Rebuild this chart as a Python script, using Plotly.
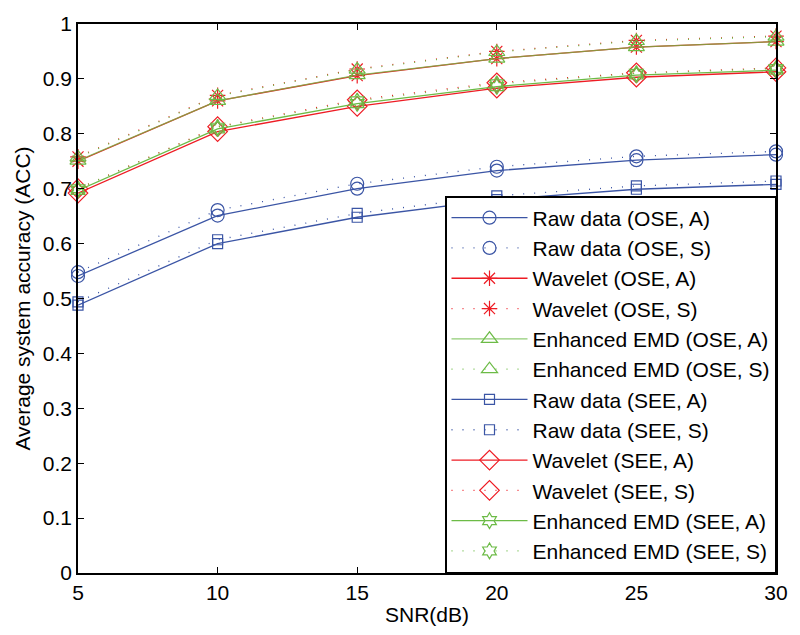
import plotly.graph_objects as go

snr = [5, 10, 15, 20, 25, 30]

raw_ose_a = [0.541, 0.651, 0.700, 0.733, 0.752, 0.762]
raw_ose_s = [0.548, 0.661, 0.709, 0.740, 0.759, 0.768]
wav_ose_a = [0.750, 0.860, 0.906, 0.937, 0.958, 0.968]
wav_ose_s = [0.758, 0.870, 0.918, 0.950, 0.970, 0.978]
emd_ose_a = [0.751, 0.860, 0.907, 0.937, 0.958, 0.968]
emd_ose_s = [0.757, 0.869, 0.917, 0.949, 0.969, 0.977]
raw_see_a = [0.488, 0.600, 0.648, 0.680, 0.699, 0.708]
raw_see_s = [0.494, 0.607, 0.655, 0.687, 0.705, 0.714]
wav_see_a = [0.692, 0.804, 0.850, 0.883, 0.903, 0.913]
wav_see_s = [0.700, 0.813, 0.862, 0.893, 0.911, 0.920]
emd_see_a = [0.697, 0.809, 0.855, 0.886, 0.907, 0.916]
emd_see_s = [0.700, 0.812, 0.860, 0.891, 0.910, 0.919]

BLUE = "#3b55a5"
RED = "#ee1c24"
GREEN = "#6cbb46"
GREEN_BLEND = "rgba(108,187,70,0.75)"
DOT = "1px,10px"
FONT = "Liberation Sans"

series = [
    ("Raw data (OSE, A)", raw_ose_a, BLUE, BLUE, "solid", "circle-open", 13),
    ("Raw data (OSE, S)", raw_ose_s, BLUE, BLUE, DOT, "circle-open", 13),
    ("Wavelet (OSE, A)", wav_ose_a, RED, RED, "solid", "asterisk-open", 13),
    ("Wavelet (OSE, S)", wav_ose_s, RED, RED, DOT, "asterisk-open", 13),
    ("Enhanced EMD (OSE, A)", emd_ose_a, GREEN, GREEN_BLEND, "solid", "triangle-up-open", 14),
    ("Enhanced EMD (OSE, S)", emd_ose_s, GREEN, GREEN, DOT, "triangle-up-open", 14),
    ("Raw data (SEE, A)", raw_see_a, BLUE, BLUE, "solid", "square-open", 10),
    ("Raw data (SEE, S)", raw_see_s, BLUE, BLUE, DOT, "square-open", 10),
    ("Wavelet (SEE, A)", wav_see_a, RED, RED, "solid", "diamond-open", 15),
    ("Wavelet (SEE, S)", wav_see_s, RED, RED, DOT, "diamond-open", 15),
    ("Enhanced EMD (SEE, A)", emd_see_a, GREEN, GREEN, "solid", "hexagram-open", 12),
    ("Enhanced EMD (SEE, S)", emd_see_s, GREEN, GREEN, DOT, "hexagram-open", 12),
]

fig = go.Figure()
for i, (name, ys, color, lcolor, dash, sym, size) in enumerate(series):
    fig.add_trace(go.Scatter(
        x=snr, y=ys, name=name, mode="lines+markers",
        line=dict(color=lcolor, width=1.3, dash=dash),
        marker=dict(symbol=sym, size=size, color=color, line=dict(color=color, width=1.2)),
        legendgroup="g%d" % i, cliponaxis=False,
    ))

axis_common = dict(
    showline=True, linecolor="black", linewidth=1.5, mirror="ticks",
    ticks="inside", ticklen=6, tickwidth=1.2, tickcolor="black",
    showgrid=False, zeroline=False,
    tickfont=dict(family=FONT, size=21, color="black"),
    title_font=dict(family=FONT, size=21, color="black"),
)

fig.update_xaxes(range=[5, 30], tickvals=[5, 10, 15, 20, 25, 30],
                 title_text="SNR(dB)", title_standoff=4, **axis_common)
fig.update_yaxes(range=[0, 1], tickvals=[0, 0.1, 0.2, 0.3, 0.4, 0.5, 0.6, 0.7, 0.8, 0.9, 1],
                 ticktext=["0", "0.1", "0.2", "0.3", "0.4", "0.5", "0.6", "0.7", "0.8", "0.9", "1"],
                 title_text="Average system accuracy (ACC)", title_standoff=6, **axis_common)

fig.update_layout(
    width=800, height=635,
    margin=dict(l=78, r=12, t=13, b=61),
    paper_bgcolor="white", plot_bgcolor="white",
    font=dict(family=FONT, color="black"),
    legend=dict(
        x=1, y=0, xanchor="right", yanchor="bottom",
        bgcolor="white", bordercolor="black", borderwidth=1.5,
        font=dict(family=FONT, size=21, color="black"),
        itemwidth=76, tracegroupgap=0,
    ),
)

fig.write_html("out.html")
